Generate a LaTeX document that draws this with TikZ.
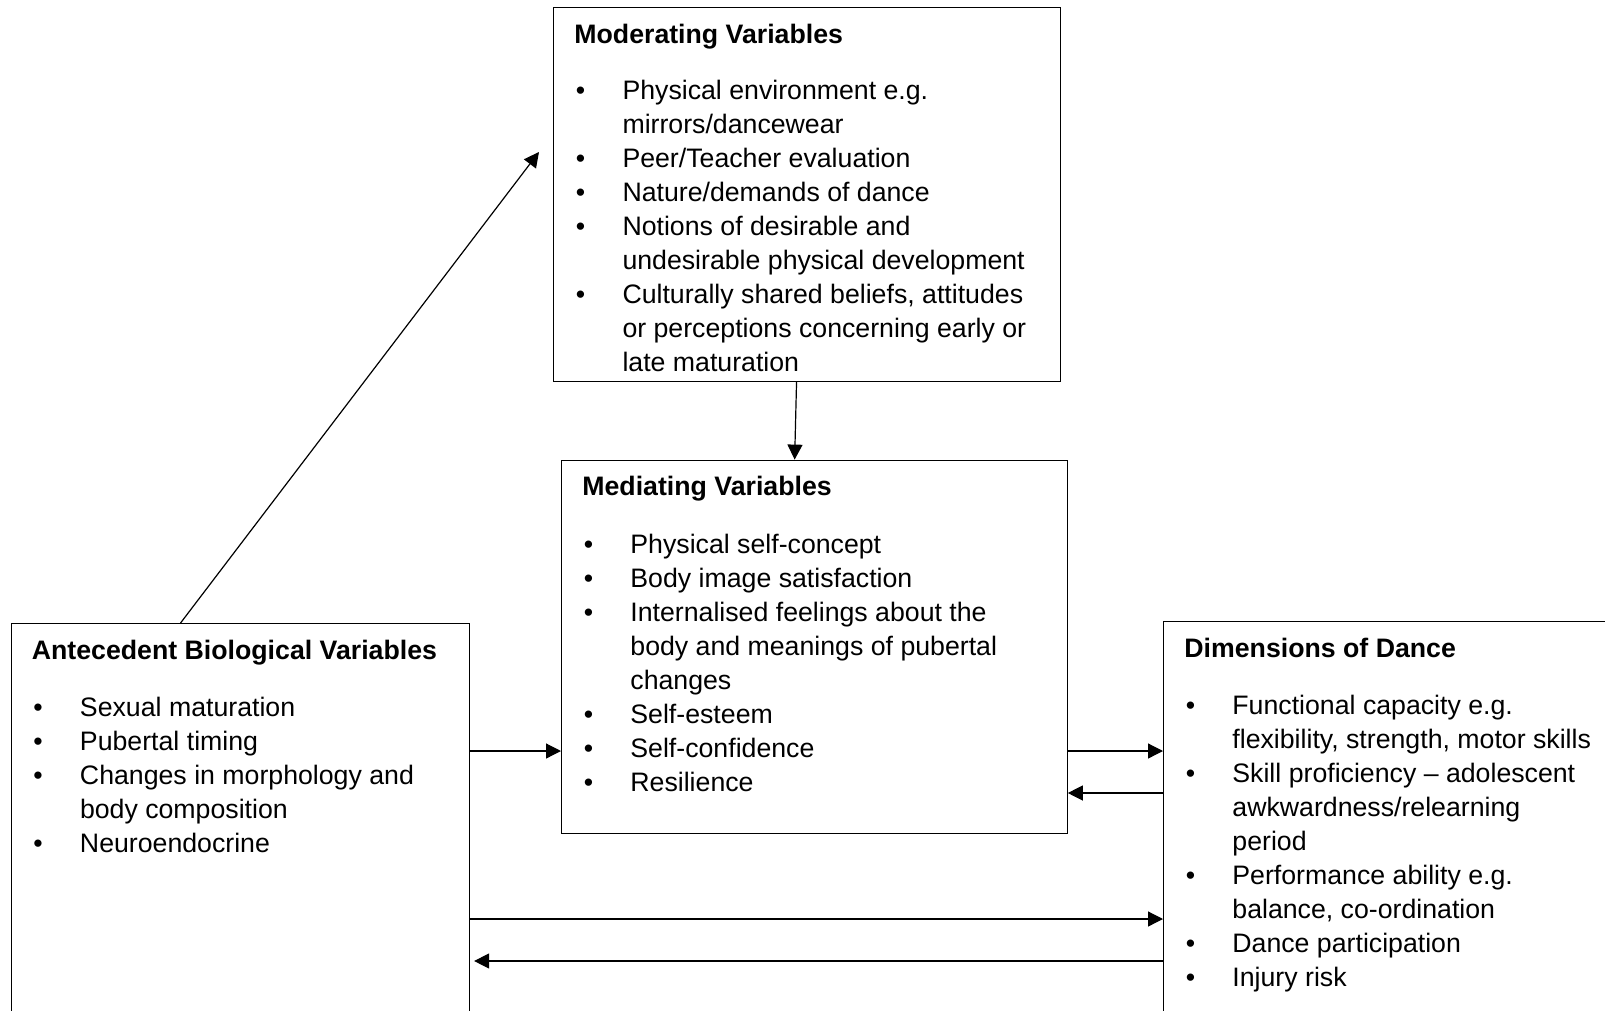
\documentclass[tikz,border=0pt]{standalone}
\usepackage{fontspec}
\setmainfont{Liberation Sans}
\usetikzlibrary{arrows.meta,calc}

% bullet item: bullet in a fixed-width box, continuation lines hang under the text
\newlength\itemhang
\setlength\itemhang{23.3pt}
\newcommand\bul{\par\noindent\hangindent=\itemhang\hangafter=1\makebox[\itemhang][l]{\textbullet}}
\newcommand\itemlist[1]{\parbox[t]{320pt}{\setlength\parskip{0pt}\leftskip=0pt\rightskip=0pt plus 1fil\relax #1\par}}

\tikzset{
  box/.style={draw, line width=0.6pt, inner sep=0pt, anchor=north west},
  heading/.style={anchor=base west, inner sep=0pt, font=\fontsize{13.35}{17}\selectfont\bfseries},
  items/.style={anchor=base west, inner sep=0pt, font=\fontsize{13.35}{17}\selectfont},
  arr/.style={line width=0.6pt, -{Triangle[length=7.5pt,width=7.5pt]}}
}

\begin{document}
\begin{tikzpicture}[x=0.5pt, y=-0.5pt]
\useasboundingbox (0,0) rectangle (1605,1011);

% the four boxes (left and right ones run past the page edge)
\node[box, minimum width=253.4pt, minimum height=186.8pt] (mod) at (552.7,7.2) {};
\node[box, minimum width=252.8pt, minimum height=186.8pt] (med) at (561,459.6) {};
\node[box, minimum width=229.2pt, minimum height=210pt] (ant) at (10.5,623) {};
\node[box, minimum width=232pt, minimum height=211pt] (dim) at (1163,621) {};

% moderating variables
\node[heading] (modT) at (574,43.5) {Moderating Variables};
\node[items] (modL) at (575.5,99.5) {\itemlist{%
  \bul Physical environment e.g.\\ mirrors/dancewear
  \bul Peer/Teacher evaluation
  \bul Nature/demands of dance
  \bul Notions of desirable and\\ undesirable physical development
  \bul Culturally shared beliefs, attitudes\\ or perceptions concerning early or\\ late maturation}};

% mediating variables
\node[heading] (medT) at (582,495) {Mediating Variables};
\node[items] (medL) at (583.4,553) {\itemlist{%
  \bul Physical self-concept
  \bul Body image satisfaction
  \bul Internalised feelings about the\\ body and meanings of pubertal\\ changes
  \bul Self-esteem
  \bul Self-confidence
  \bul Resilience}};

% antecedent biological variables
\node[heading] (antT) at (31.5,659) {Antecedent Biological Variables};
\node[items] (antL) at (33,716) {\itemlist{%
  \bul Sexual maturation
  \bul Pubertal timing
  \bul Changes in morphology and\\ body composition
  \bul Neuroendocrine}};

% dimensions of dance
\node[heading] (dimT) at (1184,657) {Dimensions of Dance};
\node[items] (dimL) at (1185.4,714) {\itemlist{%
  \bul Functional capacity e.g.\\ flexibility, strength, motor skills
  \bul Skill proficiency -- adolescent\\ awkwardness/relearning\\ period
  \bul Performance ability e.g.\\ balance, co-ordination
  \bul Dance participation
  \bul Injury risk}};

% connector levels
\coordinate (modin) at (539,152);
\coordinate (yA) at (0,751);
\coordinate (yB) at (0,793);
\coordinate (yC) at (0,919);
\coordinate (yD) at (0,961);

\draw[arr] ($(ant.north west)!0.37!(ant.north east)$) -- (modin);
\draw[arr] ($(mod.south west)!0.48!(mod.south east)$) -- ($(med.north west)!0.461!(med.north east)$);
\draw[arr] (ant.east |- yA) -- (med.west |- yA);
\draw[arr] (med.east |- yA) -- (dim.west |- yA);
\draw[arr] (dim.west |- yB) -- (med.east |- yB);
\draw[arr] (ant.east |- yC) -- (dim.west |- yC);
\draw[arr, shorten >=2pt] (dim.west |- yD) -- (ant.east |- yD);
\end{tikzpicture}
\end{document}
